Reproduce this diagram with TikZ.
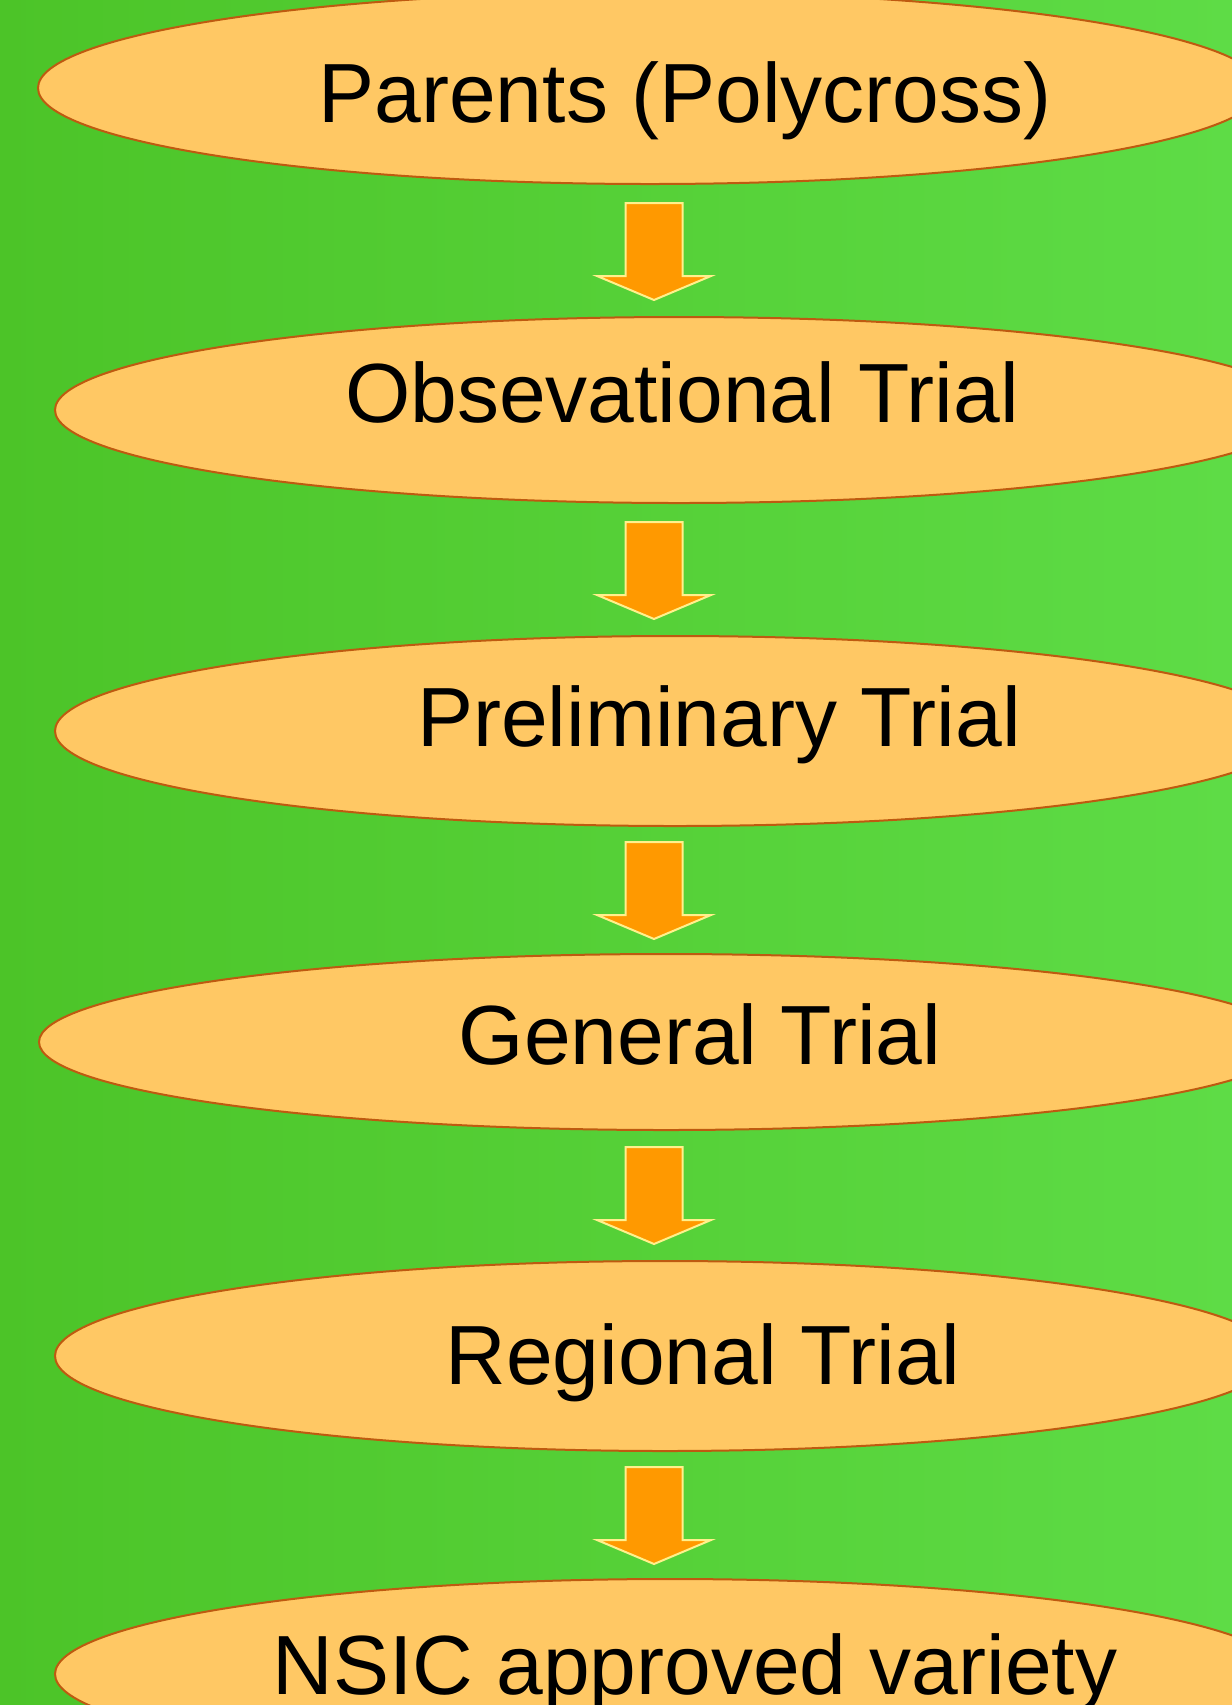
\documentclass[tikz,border=0pt]{standalone}
\usepackage{fontspec}
\setmainfont{Liberation Sans}
\usetikzlibrary{shapes.geometric}

\definecolor{leafdark}{RGB}{76,196,40}
\definecolor{leaflight}{RGB}{94,220,70}
\definecolor{stagefill}{RGB}{255,200,100}
\definecolor{stageline}{RGB}{190,90,16}
\definecolor{arrowfill}{RGB}{255,153,0}
\definecolor{arrowline}{RGB}{255,240,140}

\tikzset{
  stage/.style={ellipse, draw=stageline, line width=1pt, fill=stagefill, inner sep=0pt},
  stagetext/.style={font=\fontsize{42}{50}\selectfont, text=black, text height=30pt, text depth=0pt, inner sep=0pt},
  flow/.style={draw=arrowline, line width=1pt, fill=arrowfill, line join=miter}
}

% block arrow, #1 = top of its shaft
\newcommand\flowarrow[1]{\filldraw [flow] (625.5,#1) -- ++(57,0) -- ++(0,73) -- ++(28.5,0) -- ++(-57,24) -- ++(-57,-24) -- ++(28.5,0) -- cycle;}

\begin{document}
\begin{tikzpicture}[x=0.5pt,y=-0.5pt]
\useasboundingbox (0,0) rectangle (1232,1705);
\clip (0,0) rectangle (1232,1705);
\shade [left color=leafdark, right color=leaflight] (0,0) rectangle (1232,1705);

\node (e1) at (650,88) [stage, minimum width=612pt, minimum height=96pt] {};
\node (e2) at (679,410) [stage, minimum width=624pt, minimum height=93pt] {};
\node (e3) at (675,731) [stage, minimum width=620pt, minimum height=95pt] {};
\node (e4) at (666,1042) [stage, minimum width=627pt, minimum height=88pt] {};
\node (e5) at (665,1356) [stage, minimum width=610pt, minimum height=95pt] {};
\node (e6) at (670,1674) [stage, minimum width=615pt, minimum height=95pt] {};

\node (t1) at (685,92) [stagetext] {Parents (Polycross)};
\node (t2) at (682,392) [stagetext] {Obsevational Trial};
\node (t3) at (719,716) [stagetext] {Preliminary Trial};
\node (t4) at (700,1034) [stagetext] {General Trial};
\node (t5) at (703,1354) [stagetext] {Regional Trial};
\node (t6) at (695,1664) [stagetext] {NSIC approved variety};

\flowarrow{203}
\flowarrow{522}
\flowarrow{842}
\flowarrow{1147}
\flowarrow{1467}
\end{tikzpicture}
\end{document}
